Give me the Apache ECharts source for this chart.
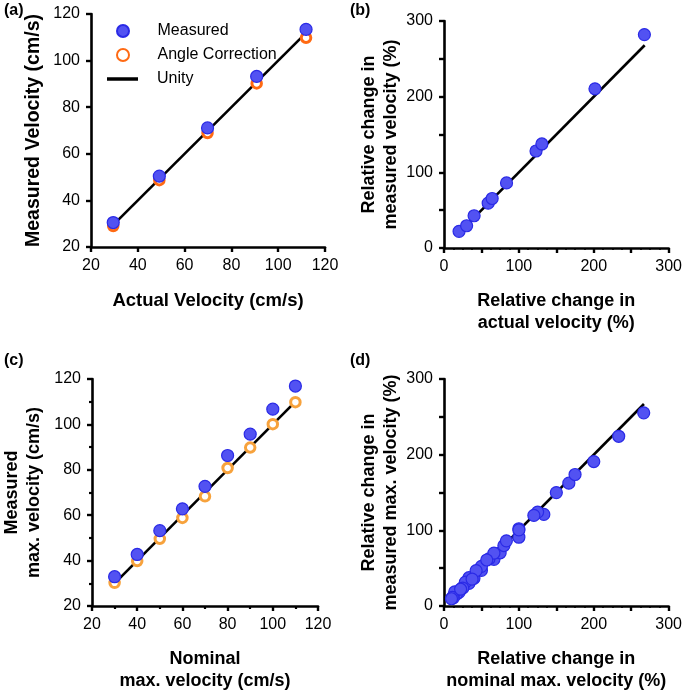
<!DOCTYPE html>
<html>
<head>
<meta charset="utf-8">
<script src="https://cdn.jsdelivr.net/npm/echarts@6/dist/echarts.min.js"></script>
<style>
html,body{margin:0;padding:0;background:#fff;}
#chart{width:685px;height:693px;}
</style>
</head>
<body>
<div id="chart"></div>
<script>
// ---- Panel (a) ----
const actualA = [29.5, 49.2, 69.8, 90.8, 111.9];
const measuredA = [30.5, 50.4, 71.1, 93.2, 113.4];
const angleCorrA = [29.0, 48.7, 68.9, 90.2, 109.8];
const unityA = [29.5, 111.9];

// ---- Panel (b) ----
const relActualB = [20.1, 30.2, 40.2, 59.0, 64.3, 83.5, 122.9, 130.7, 201.6, 267.6];
const relMeasuredB = [22.0, 29.4, 42.6, 59.3, 65.4, 86.0, 128.2, 137.5, 210.4, 282.0];
const unityB = [20, 268];

// ---- Panel (c) ----
const nominalC = [30, 40, 50, 60, 70, 80, 90, 100, 110];
const measuredC = [32.9, 42.7, 53.2, 62.8, 72.7, 86.3, 95.7, 106.7, 116.9];
const angleCorrC = [30.2, 39.8, 49.6, 58.8, 68.3, 80.8, 89.8, 100.1, 109.8];
const unityC = [30, 110];

// ---- Panel (d) ----
const relNominalD = [33.3, 66.7, 100, 133.3, 166.7, 200, 233.3, 266.7, 25, 50, 75, 100, 125, 150, 175,
  20, 40, 60, 80, 100, 120, 16.7, 33.3, 50, 66.7, 83.3, 14.3, 28.6, 42.9, 57.1, 12.5, 25, 37.5, 11.1, 22.2, 10];
const relMeasuredD = [29.8, 61.7, 90.9, 121.0, 162.3, 190.9, 224.3, 255.3, 24.6, 47.1, 70.3, 102.1, 124.1, 149.9, 173.8,
  18.0, 36.7, 62.2, 79.9, 100.6, 119.7, 15.8, 37.4, 52.4, 69.9, 86.1, 18.7, 31.6, 46.8, 60.8, 10.9, 23.6, 35.5, 11.5, 22.2, 9.6];
const unityD = [10, 267];

// ---- tick label sets ----
const ticksVel = [20, 40, 60, 80, 100, 120];
const ticksPct = [0, 100, 200, 300];

const FONT = 'Liberation Sans, Arial, Helvetica, sans-serif';
const BLUE = '#5252f2', BLUE_B = '#2a2ae6', ORANGE_A = '#ff6a13', ORANGE_C = '#f7a23c';

function pairs(xs, ys) { return xs.map((x, i) => [x, ys[i]]); }

function axis(gi, o) {
  const labelSet = o.labels;
  return {
    type: 'value', gridIndex: gi, min: o.min, max: o.max, interval: o.interval,
    name: o.name, nameLocation: 'middle', nameGap: o.nameGap,
    nameTextStyle: { fontFamily: FONT, fontWeight: 'bold', fontSize: o.nameSize || 18, color: '#000', lineHeight: 22 },
    axisLine: { show: true, onZero: false, lineStyle: { color: '#000', width: 2.6 } },
    axisTick: { show: true, length: 5, lineStyle: { color: '#000', width: 2.4 } },
    minorTick: o.minor ? { show: true, splitNumber: o.minor, length: o.minorLen || 3, lineStyle: { color: '#000', width: o.minorW || 2.2 } } : { show: false },
    splitLine: { show: false },
    axisLabel: {
      margin: 11, fontFamily: FONT, fontSize: 16, color: '#000',
      formatter: v => labelSet.indexOf(v) >= 0 ? String(v) : ''
    }
  };
}

const chart = echarts.init(document.getElementById('chart'), null, { renderer: 'canvas' });

const titleStyle = { fontFamily: FONT, fontWeight: 'bold', fontSize: 16, color: '#000' };
const legendText = { fontFamily: FONT, fontSize: 16, color: '#000', rich: { t: { fontFamily: FONT, fontSize: 16, color: '#000', lineHeight: 16, padding: [0, 0, 0, 14] } } };

const option = {
  animation: false,
  backgroundColor: '#fff',
  title: [
    { text: '(a)', left: 4, top: 3, padding: 0, textStyle: titleStyle },
    { text: '(b)', left: 350, top: 3, padding: 0, textStyle: titleStyle },
    { text: '(c)', left: 4, top: 353, padding: 0, textStyle: titleStyle },
    { text: '(d)', left: 350, top: 353, padding: 0, textStyle: titleStyle }
  ],
  legend: [
    {
      left: 111, top: 18, orient: 'vertical', itemWidth: 31, itemHeight: 12, itemGap: 8,
      data: ['Measured', 'Angle Correction'],
      formatter: n => '{t|' + n + '}', textStyle: legendText
    },
    {
      left: 102, top: 66, orient: 'vertical', itemWidth: 31, itemHeight: 3.5, itemGap: 8,
      data: [{ name: 'Unity', icon: 'rect' }],
      formatter: n => '{t|' + n + '}', textStyle: legendText
    }
  ],
  grid: [
    { left: 91, top: 14, width: 234, height: 233 },
    { left: 444, top: 21, width: 229, height: 227 },
    { left: 89, top: 379, width: 229, height: 228 },
    { left: 444, top: 379, width: 229, height: 228 }
  ],
  xAxis: [
    axis(0, { min: 20, max: 120, interval: 20, labels: ticksVel, name: 'Actual Velocity (cm/s)', nameGap: 43, nameSize: 18.5 }),
    axis(1, { min: 0, max: 300, interval: 50, labels: ticksPct, name: 'Relative change in\nactual velocity (%)', nameGap: 42, minor: 4, minorLen: 2, minorW: 1.5 }),
    axis(2, { min: 20, max: 120, interval: 20, labels: ticksVel, name: 'Nominal\nmax. velocity (cm/s)', nameGap: 42, minor: 2 }),
    axis(3, { min: 0, max: 300, interval: 50, labels: ticksPct, name: 'Relative change in\nnominal max. velocity (%)', nameGap: 42, minor: 4, minorLen: 2, minorW: 1.5 })
  ],
  yAxis: [
    axis(0, { min: 20, max: 120, interval: 20, labels: ticksVel, name: 'Measured Velocity (cm/s)', nameGap: 46, nameSize: 19.5 }),
    axis(1, { min: 0, max: 300, interval: 50, labels: ticksPct, name: 'Relative change in\nmeasured velocity (%)', nameGap: 42 }),
    axis(2, { min: 20, max: 120, interval: 20, labels: ticksVel, name: 'Measured\nmax. velocity (cm/s)', nameGap: 47, minor: 2 }),
    axis(3, { min: 0, max: 300, interval: 50, labels: ticksPct, name: 'Relative change in\nmeasured max. velocity (%)', nameGap: 42 })
  ],
  series: [
    // (a)
    { name: 'Unity', type: 'line', xAxisIndex: 0, yAxisIndex: 0, data: pairs(unityA, unityA), symbol: 'none',
      lineStyle: { color: '#000', width: 2.6 }, itemStyle: { color: '#000' }, z: 2 },
    { name: 'Angle Correction', type: 'scatter', xAxisIndex: 0, yAxisIndex: 0, data: pairs(actualA, angleCorrA),
      symbol: 'circle', symbolSize: 9.5, itemStyle: { color: '#fff', borderColor: ORANGE_A, borderWidth: 3, opacity: 1 }, z: 3 },
    { name: 'Measured', type: 'scatter', xAxisIndex: 0, yAxisIndex: 0, data: pairs(actualA, measuredA),
      symbol: 'circle', symbolSize: 12, itemStyle: { color: BLUE, borderColor: BLUE_B, borderWidth: 1.2, opacity: 1 }, z: 4 },
    // (b)
    { type: 'line', xAxisIndex: 1, yAxisIndex: 1, data: pairs(unityB, unityB), symbol: 'none',
      lineStyle: { color: '#000', width: 2.6 }, z: 2 },
    { type: 'scatter', xAxisIndex: 1, yAxisIndex: 1, data: pairs(relActualB, relMeasuredB),
      symbol: 'circle', symbolSize: 12, itemStyle: { color: BLUE, borderColor: BLUE_B, borderWidth: 1.2, opacity: 1 }, z: 4 },
    // (c)
    { type: 'line', xAxisIndex: 2, yAxisIndex: 2, data: pairs(unityC, unityC), symbol: 'none',
      lineStyle: { color: '#000', width: 2.6 }, z: 2 },
    { type: 'scatter', xAxisIndex: 2, yAxisIndex: 2, data: pairs(nominalC, angleCorrC),
      symbol: 'circle', symbolSize: 9.5, itemStyle: { color: '#fff', borderColor: ORANGE_C, borderWidth: 3, opacity: 1 }, z: 3 },
    { type: 'scatter', xAxisIndex: 2, yAxisIndex: 2, data: pairs(nominalC, measuredC),
      symbol: 'circle', symbolSize: 12, itemStyle: { color: BLUE, borderColor: BLUE_B, borderWidth: 1.2, opacity: 1 }, z: 4 },
    // (d)
    { type: 'line', xAxisIndex: 3, yAxisIndex: 3, data: pairs(unityD, unityD), symbol: 'none',
      lineStyle: { color: '#000', width: 2.6 }, z: 2 },
    { type: 'scatter', xAxisIndex: 3, yAxisIndex: 3, data: pairs(relNominalD, relMeasuredD),
      symbol: 'circle', symbolSize: 12, itemStyle: { color: BLUE, borderColor: BLUE_B, borderWidth: 1.2, opacity: 1 }, z: 4 }
  ]
};
chart.setOption(option);
</script>
</body>
</html>
